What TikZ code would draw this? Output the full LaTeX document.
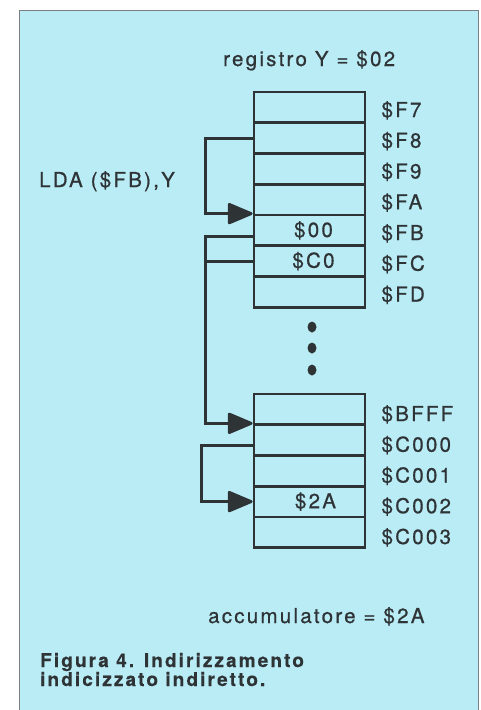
\documentclass[tikz,border=0pt]{standalone}
\usepackage{fontspec}
\setmainfont{TeX Gyre Heros}[LetterSpace=11,FakeBold=0.7]
\newfontfamily\captfont{TeX Gyre Heros Bold}[LetterSpace=11,FakeBold=0.4]
\usetikzlibrary{arrows.meta}
\definecolor{bg}{HTML}{BAECF6}
\definecolor{ink}{HTML}{2E3336}
\definecolor{framec}{HTML}{7A8082}
\begin{document}
\begin{tikzpicture}[x=1pt,y=-1pt,
  txt/.style={inner sep=0pt, text=ink, font=\fontsize{20.5}{22}\selectfont},
  cell/.style={draw=ink, line width=2.8pt, minimum width=111pt, minimum height=30.75pt, inner sep=0pt, text=ink, font=\fontsize{20.5}{22}\selectfont},
  addr/.style={txt, anchor=west},
  conn/.style={draw=ink, line width=2.8pt},
  tip/.style={-{Triangle[length=27pt,width=22pt,round]}},
  capt/.style={inner sep=0pt, text=ink, anchor=base west, font=\captfont\fontsize{19}{16}\selectfont}
]
\useasboundingbox (0,0) rectangle (481,710);
\fill[bg] (19,10) rectangle (478,712);
\draw[framec, line width=1pt] (19,712) -- (19,10) -- (478,10) -- (478,712);

% first block
\node[cell] (f7) at (309.5,107.4) {};
\node[cell] (f8) at (309.5,138.1) {};
\node[cell] (f9) at (309.5,168.9) {};
\node[cell] (fa) at (309.5,199.6) {};
\node[cell] (fb) at (309.5,230.4) {\hspace*{8pt}\$00};
\node[cell] (fc) at (309.5,261.1) {\hspace*{8pt}\$C0};
\node[cell] (fd) at (309.5,291.9) {};

% second block
\node[cell] (b0) at (309.5,409.4) {};
\node[cell] (b1) at (309.5,440.1) {};
\node[cell] (b2) at (309.5,470.9) {};
\node[cell] (b3) at (309.5,501.6) {\hspace*{12pt}\$2A};
\node[cell] (b4) at (309.5,532.4) {};

% addresses
\node[addr] (lf7) at ([xshift=15pt,yshift=-3pt]f7.east) {\$F7};
\node[addr] (lf8) at ([xshift=15pt,yshift=-3pt]f8.east) {\$F8};
\node[addr] (lf9) at ([xshift=15pt,yshift=-3pt]f9.east) {\$F9};
\node[addr] (lfa) at ([xshift=15pt,yshift=-3pt]fa.east) {\$FA};
\node[addr] (lfb) at ([xshift=15pt,yshift=-3pt]fb.east) {\$FB};
\node[addr] (lfc) at ([xshift=15pt,yshift=-3pt]fc.east) {\$FC};
\node[addr] (lfd) at ([xshift=15pt,yshift=-3pt]fd.east) {\$FD};
\node[addr] (lb0) at ([xshift=15pt,yshift=-5pt]b0.east) {\$BFFF};
\node[addr] (lb1) at ([xshift=15pt,yshift=-5pt]b1.east) {\$C000};
\node[addr] (lb2) at ([xshift=15pt,yshift=-5pt]b2.east) {\$C001};
\node[addr] (lb3) at ([xshift=15pt,yshift=-5pt]b3.east) {\$C002};
\node[addr] (lb4) at ([xshift=15pt,yshift=-5pt]b4.east) {\$C003};

% dots
\fill[ink] (312,327) ellipse [x radius=4.5pt, y radius=5.5pt];
\fill[ink] (312,348) ellipse [x radius=4.5pt, y radius=5.5pt];
\fill[ink] (312,370) ellipse [x radius=4.5pt, y radius=5.5pt];

% connectors
\draw[conn, tip] (f8.west) -- ++(-47,0) |- (fb.north west);
\draw[conn, tip] ([yshift=-6pt]fb.west) -- ++(-47,0) |- (b1.north west);
\draw[conn] (fc.west) -- ++(-47,0);
\draw[conn, tip] ([yshift=-5pt]b1.west) -- ++(-51,0) |- (b3.west);

% texts
\node[txt, anchor=base west] (reg) at (223,66) {registro Y = \$02};
\node[txt, anchor=base west] (lda) at (39,187) {LDA (\$FB),Y};
\node[txt, anchor=base west] (acc) at (208,623) {accumulatore = \$2A};
\node[capt] (cap1) at (40,667) {Figura 4. Indirizzamento};
\node[capt] (cap2) at (40,686) {indicizzato indiretto.};
\end{tikzpicture}
\end{document}
